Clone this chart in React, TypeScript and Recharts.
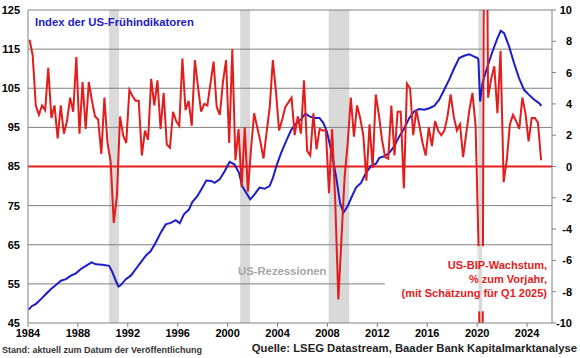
import {
  ComposedChart,
  Line,
  XAxis,
  YAxis,
  ReferenceArea,
  ReferenceLine,
} from 'recharts';

// US-BIP-Wachstum, quarterly (1984 Q1 .. 2025 Q1), % (right axis)
const gdpStartYear = 1984;
const gdpGrowth = [
  8.1, 7.1, 3.9, 3.3, // 1984
  3.9, 3.6, 6.3, 3.1, // 1985
  3.9, 1.8, 3.9, 2.1, // 1986
  2.9, 4.4, 3.5, 7.0, // 1987
  2.1, 5.4, 2.4, 5.4, // 1988
  4.2, 3.2, 3.0, 0.8, // 1989
  4.4, 1.5, 0.3, -3.6, // 1990
  -1.9, 3.2, 2.0, 1.5, // 1991
  4.9, 4.5, 4.2, 4.2, // 1992
  0.7, 2.3, 1.7, 5.6, // 1993
  3.9, 5.5, 2.4, 4.7, // 1994
  1.4, 1.2, 3.5, 2.9, // 1995
  2.6, 6.9, 3.6, 4.2, // 1996
  2.6, 6.8, 5.1, 3.5, // 1997
  4.0, 3.9, 5.3, 6.7, // 1998
  3.8, 3.3, 5.4, 6.8, // 1999
  1.5, 7.5, 0.4, 2.4, // 2000
  -1.3, 2.5, -1.6, 1.1, // 2001
  3.4, 2.5, 1.6, 0.5, // 2002
  2.2, 3.8, 6.8, 4.8, // 2003
  2.3, 3.0, 3.8, 4.1, // 2004
  4.4, 2.0, 3.2, 2.1, // 2005
  5.5, 1.0, 0.7, 3.4, // 2006
  1.1, 2.4, 2.3, 2.3, // 2007
  -1.7, 2.4, -2.2, -8.5, // 2008
  -4.6, -0.7, 1.5, 4.4, // 2009
  1.9, 3.9, 3.1, 2.0, // 2010
  -0.9, 2.7, -0.1, 4.6, // 2011
  3.3, 1.7, 0.6, 0.5, // 2012
  3.9, 0.7, 3.5, 3.5, // 2013
  -1.4, 5.3, 5.0, 2.0, // 2014
  3.6, 2.6, 1.5, 0.7, // 2015
  2.5, 1.3, 2.9, 2.3, // 2016
  2.0, 2.3, 3.2, 4.6, // 2017
  3.2, 2.3, 2.7, 0.6, // 2018
  2.1, 3.6, 4.7, 2.6, // 2019
  -5.5, -28.0, 35.0, 4.4, // 2020
  5.6, 6.4, 3.4, 7.4, // 2021
  -1.0, 0.4, 2.7, 3.3, // 2022
  2.9, 2.4, 4.4, 3.4, // 2023
  1.6, 3.1, 3.1, 2.8, // 2024
  0.4, // 2025 Q1 (Schätzung)
];

// Index der US-Frühindikatoren (left axis)
const leiDates = [
  1984.05, 1984.3, 1984.64, 1985.04, 1985.44, 1985.84, 1986.24, 1986.64, 1987.04, 1987.44,
  1987.84, 1988.24, 1988.64, 1989.1, 1989.44, 1989.97, 1990.5, 1990.72, 1991.04, 1991.25,
  1991.44, 1991.84, 1992.24, 1992.64, 1993.04, 1993.44, 1993.84, 1994.24, 1994.64, 1995.04,
  1995.44, 1995.84, 1996.16, 1996.5, 1996.9, 1997.17, 1997.57, 1997.97, 1998.29, 1998.69,
  1998.96, 1999.36, 1999.76, 2000.16, 2000.56, 2000.91, 2001.17, 2001.49, 2001.81, 2002.16,
  2002.56, 2002.96, 2003.36, 2003.63, 2003.95, 2004.29, 2004.69, 2005.09, 2005.49, 2005.89,
  2006.24, 2006.56, 2006.96, 2007.36, 2007.68, 2007.95, 2008.29, 2008.69, 2009.01, 2009.28,
  2009.63, 2009.97, 2010.29, 2010.69, 2011.09, 2011.49, 2011.89, 2012.16, 2012.56, 2012.96,
  2013.36, 2013.76, 2014.16, 2014.56, 2014.96, 2015.36, 2015.76, 2016.16, 2016.56, 2016.96,
  2017.36, 2017.76, 2018.16, 2018.56, 2018.96, 2019.36, 2019.76, 2020.03, 2020.1, 2020.24,
  2020.43, 2020.83, 2021.23, 2021.63, 2021.89, 2022.16, 2022.56, 2022.96, 2023.36, 2023.76,
  2024.16, 2024.56, 2024.96, 2025.15,
];
const leiValues = [
  48.4, 49.3, 49.9, 51.1, 52.4, 53.7, 54.7, 55.8, 56.2, 57.1,
  57.7, 58.8, 59.6, 60.5, 60.0, 59.9, 59.6, 58.3, 55.8, 54.3,
  54.7, 56.2, 57.1, 58.8, 60.5, 62.2, 63.4, 65.6, 68.1, 70.2,
  70.6, 71.3, 70.5, 72.8, 74.0, 75.9, 77.4, 79.6, 81.4, 81.3,
  80.8, 81.7, 83.8, 86.2, 85.5, 83.4, 80.0, 78.3, 76.6, 77.9,
  79.6, 79.3, 80.0, 82.1, 85.5, 88.5, 91.5, 94.3, 96.0, 97.1,
  98.5, 97.8, 97.4, 97.4, 96.1, 94.0, 89.3, 82.5, 75.7, 73.2,
  74.9, 77.4, 79.6, 80.8, 83.4, 85.1, 85.7, 87.2, 87.6, 88.5,
  90.2, 92.7, 94.8, 97.4, 99.1, 99.7, 99.5, 99.9, 100.5, 102.1,
  104.6, 107.2, 110.1, 112.7, 113.3, 113.7, 113.1, 112.7, 112.3, 101.6,
  106.3, 110.6, 114.4, 117.8, 119.7, 119.1, 115.7, 111.4, 107.6, 104.6,
  103.3, 102.1, 101.2, 100.5,
];

const recessions = [
  [1990.5, 1991.3],
  [2001.0, 2001.8],
  [2008.1, 2009.75],
  [2020.1, 2020.4],
];

// axis break of the 2020 outliers (right-axis values)
const breakFrom = -9.25;
const breakTo = -5.1;

const xTicks = [1984, 1988, 1992, 1996, 2000, 2004, 2008, 2012, 2016, 2020, 2024];
const leftTicks = [45, 55, 65, 75, 85, 95, 105, 115, 125];
const rightTicks = [-10, -8, -6, -4, -2, 0, 2, 4, 6, 8, 10];

const gdpData = gdpGrowth.map((v, i) => ({ t: gdpStartYear + i * 0.25 + 0.125, v }));
const leiData = leiDates.map((t, i) => ({ t, v: leiValues[i] }));

const FONT = '"Liberation Sans", Arial, sans-serif';
const RED = '#e31c1c';
const BLUE = '#1c1cc8';
const GRID = '#808080';
const BAND = '#d9d9d9';

const RightTick = (props: any) => {
  const { y, payload } = props;
  return (
    <text x={572} y={y} dy={4} textAnchor="end" fontFamily={FONT} fontSize={11} fontWeight="bold" fill="#000">
      {payload.value}
    </text>
  );
};

const label = { position: 'absolute' as const, fontSize: 11.3, lineHeight: '14px', fontWeight: 'bold' };

export default function App() {
  const covid = recessions[3];
  return (
    <div style={{ position: 'absolute', left: 0, top: 0, width: 580, height: 358, background: '#fff', fontFamily: FONT }}>
      <ComposedChart width={580} height={358} margin={{ top: 10, right: 0, bottom: 15, left: 0 }}>
        <XAxis
          type="number"
          dataKey="t"
          domain={[1984, 2026]}
          ticks={xTicks}
          allowDataOverflow
          stroke={GRID}
          tickSize={4}
          height={20}
          tick={{ fill: '#000', fontSize: 11, fontWeight: 'bold', fontFamily: FONT }}
        />
        <YAxis
          yAxisId="left"
          orientation="left"
          domain={[45, 125]}
          ticks={leftTicks}
          width={28}
          stroke={GRID}
          tickLine={false}
          tick={{ fill: '#000', fontSize: 11, fontWeight: 'bold', fontFamily: FONT }}
        />
        <YAxis
          yAxisId="right"
          orientation="right"
          domain={[-10, 10]}
          ticks={rightTicks}
          allowDataOverflow
          width={28}
          stroke={GRID}
          tickSize={4}
          tick={<RightTick />}
        />
        {recessions.map(([a, b]) => (
          <ReferenceArea key={a} yAxisId="left" x1={a} x2={b} y1={45} y2={125} fill={BAND} fillOpacity={1} stroke="none" />
        ))}
        {leftTicks.slice(1).map((v) =>
          v === 55 ? (
            <ReferenceLine key={v} yAxisId="left" segment={[{ x: 1984, y: 55 }, { x: 2012.6, y: 55 }]} stroke={GRID} />
          ) : (
            <ReferenceLine key={v} yAxisId="left" y={v} stroke={GRID} />
          )
        )}
        <ReferenceLine yAxisId="right" y={0} stroke={RED} strokeWidth={2} />
        <Line
          yAxisId="left"
          data={leiData}
          dataKey="v"
          stroke={BLUE}
          strokeWidth={2}
          dot={false}
          isAnimationActive={false}
        />
        <Line
          yAxisId="right"
          data={gdpData}
          dataKey="v"
          stroke={RED}
          strokeWidth={2}
          dot={false}
          isAnimationActive={false}
        />
        <ReferenceArea
          yAxisId="right"
          x1={2020.02}
          x2={2020.55}
          y1={breakFrom}
          y2={breakTo}
          fill="#fff"
          fillOpacity={1}
          stroke="none"
          zIndex={1000}
        />
        <ReferenceArea
          yAxisId="right"
          x1={covid[0]}
          x2={covid[1]}
          y1={breakFrom}
          y2={breakTo}
          fill={BAND}
          fillOpacity={1}
          stroke="none"
          zIndex={1001}
        />
      </ComposedChart>

      <div style={{ ...label, left: 35, top: 15, color: BLUE }}>Index der US-Frühindikatoren</div>
      <div style={{ ...label, left: 238, top: 264, color: '#a6a6a6' }}>US-Rezessionen</div>
      <div style={{ ...label, fontSize: 11, right: 33, top: 258, color: RED, textAlign: 'right' }}>
        US-BIP-Wachstum,
        <br />% zum Vorjahr,
        <br />
        (mit Schätzung für Q1 2025)
      </div>
      <div style={{ ...label, left: 2, top: 345, fontSize: 9, lineHeight: '11px', color: '#333' }}>
        Stand: aktuell zum Datum der Veröffentlichung
      </div>
      <div style={{ ...label, right: 3, top: 342, fontSize: 11.3, lineHeight: '13px', color: '#222' }}>
        Quelle: LSEG Datastream, Baader Bank Kapitalmarktanalyse
      </div>
    </div>
  );
}
